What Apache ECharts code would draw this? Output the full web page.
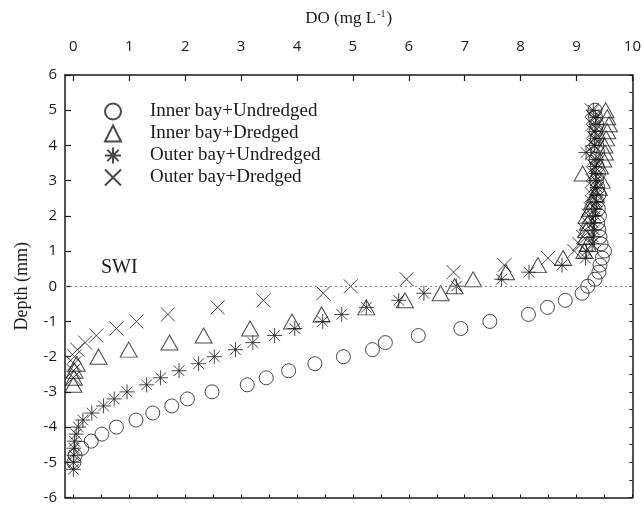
<!DOCTYPE html>
<html>
<head>
<meta charset="utf-8">
<script src="https://cdn.jsdelivr.net/npm/echarts@6/dist/echarts.min.js"></script>
<style>
html,body{margin:0;padding:0;background:#fff;}
#chart{width:644px;height:505px;}
</style>
</head>
<body>
<div id="chart"></div>
<script>
// ---- Data ----
const seriesNames = ['Inner bay+Undredged','Inner bay+Dredged','Outer bay+Undredged','Outer bay+Dredged'];
const xTickValues = [0,1,2,3,4,5,6,7,8,9,10];
const xMinorTicks = [0,0.5,1,1.5,2,2.5,3,3.5,4,4.5,5,5.5,6,6.5,7,7.5,8,8.5,9,9.5,10];

const innerUndredgedDepth = [-5.0,-4.8,-4.6,-4.4,-4.2,-4.0,-3.8,-3.6,-3.4,-3.2,-3.0,-2.8,-2.6,-2.4,-2.2,-2.0,-1.8,-1.6,-1.4,-1.2,-1.0,-0.8,-0.6,-0.4,-0.2,0.0,0.2,0.4,0.6,0.8,1.0,1.2,1.4,1.6,1.8,2.0,2.2,2.4,2.6,2.8,3.0,3.2,3.4,3.6,3.8,4.0,4.2,4.4,4.6,4.8,5.0];
const innerUndredgedDO = [0.01,0.03,0.15,0.32,0.51,0.77,1.12,1.42,1.76,2.04,2.48,3.11,3.45,3.85,4.32,4.83,5.35,5.58,6.17,6.93,7.45,8.14,8.48,8.80,9.10,9.20,9.33,9.40,9.42,9.46,9.50,9.44,9.42,9.40,9.38,9.41,9.39,9.37,9.40,9.38,9.36,9.39,9.37,9.35,9.38,9.36,9.37,9.35,9.36,9.34,9.33];

const innerDredgedDepth = [-2.8,-2.6,-2.4,-2.2,-2.0,-1.8,-1.6,-1.4,-1.2,-1.0,-0.8,-0.6,-0.4,-0.2,0.0,0.2,0.4,0.6,0.8,1.0,1.2,1.4,1.6,1.8,2.0,2.2,2.4,2.6,2.8,3.0,3.2,3.4,3.6,3.8,4.0,4.2,4.4,4.6,4.8,5.0];
const innerDredgedDO = [0.00,0.01,0.02,0.06,0.45,0.99,1.72,2.33,3.16,3.91,4.44,5.24,5.93,6.57,6.82,7.15,7.74,8.31,8.76,9.14,9.20,9.17,9.17,9.20,9.18,9.25,9.28,9.33,9.40,9.45,9.11,9.42,9.48,9.51,9.50,9.53,9.55,9.58,9.55,9.52];

const outerUndredgedDepth = [-5.2,-5.0,-4.8,-4.6,-4.4,-4.2,-4.0,-3.8,-3.6,-3.4,-3.2,-3.0,-2.8,-2.6,-2.4,-2.2,-2.0,-1.8,-1.6,-1.4,-1.2,-1.0,-0.8,-0.6,-0.4,-0.2,0.0,0.2,0.4,0.6,0.8,1.0,1.2,1.4,1.6,1.8,2.0,2.2,2.4,2.6,2.8,3.0,3.2,3.4,3.6,3.8,4.0,4.2,4.4,4.6,4.8,5.0];
const outerUndredgedDO = [0.00,0.00,0.01,0.01,0.02,0.05,0.09,0.17,0.33,0.54,0.73,0.96,1.31,1.56,1.89,2.24,2.52,2.90,3.21,3.60,3.96,4.46,4.80,5.24,5.82,6.27,6.85,7.66,8.15,8.74,9.16,9.18,9.28,9.30,9.32,9.30,9.34,9.33,9.36,9.35,9.37,9.34,9.36,9.33,9.35,9.17,9.32,9.35,9.33,9.35,9.34,9.30];

const outerDredgedDepth = [-2.6,-2.4,-2.2,-2.0,-1.8,-1.6,-1.4,-1.2,-1.0,-0.8,-0.6,-0.4,-0.2,0.0,0.2,0.4,0.6,0.8,1.0,1.2,1.4,1.6,1.8,2.0,2.2,2.4,2.6,2.8,3.0,3.2,3.4,3.6,3.8,4.0,4.2,4.4,4.6,4.8,5.0];
const outerDredgedDO = [0.00,0.00,0.01,0.02,0.07,0.21,0.41,0.77,1.13,1.69,2.58,3.40,4.47,4.96,5.96,6.80,7.71,8.49,8.96,9.05,9.12,9.15,9.20,9.22,9.25,9.27,9.28,9.30,9.28,9.30,9.32,9.30,9.28,9.30,9.32,9.30,9.28,9.30,9.27];

// ---- Chart ----
const pair = (xs, ys) => xs.map((x, i) => [x, ys[i]]);
const SERIF = '"Liberation Serif","DejaVu Serif",serif';
const SANS = '"Open Sans","Noto Sans",sans-serif';
const INK = '#1a1a1a';

const asteriskPath = 'path://M0,-10V10M-10,0H10M-7.07,-7.07L7.07,7.07M-7.07,7.07L7.07,-7.07';
const crossPath = 'path://M0,0L10,10M0,10L10,0';

const markerStyle = {color: 'rgba(255,255,255,0)', borderColor: INK, borderWidth: 1};

const chart = echarts.init(document.getElementById('chart'), null, {renderer: 'canvas'});
chart.setOption({
  animation: false,
  backgroundColor: '#fff',
  grid: {left: 65, right: 11, top: 75, bottom: 4, containLabel: false},
  legend: {
    orient: 'vertical', left: 99, top: 97, itemWidth: 16, itemHeight: 16, itemGap: 3,
    data: seriesNames,
    textStyle: {fontFamily: SERIF, fontSize: 19, color: INK, padding: [0,0,0,24]}
  },
  xAxis: [{
    type: 'value', position: 'top', min: -0.15, max: 10,
    name: '{a|DO (mg L}{s|-1}{a|)}', nameLocation: 'middle', nameGap: 46,
    nameTextStyle: {rich: {
      a: {fontFamily: SERIF, fontSize: 17, color: INK},
      s: {fontFamily: SERIF, fontSize: 10, color: INK, padding: [0,1,10,1]}
    }},
    axisLine: {show: true, onZero: false, lineStyle: {color: INK, width: 1.5}},
    axisTick: {show: true, inside: true, length: 6, customValues: xTickValues, lineStyle: {color: INK, width: 1.2}},
    axisLabel: {customValues: xTickValues, fontFamily: SANS, fontSize: 15, color: INK, margin: 21},
    splitLine: {show: false}
  }, {
    type: 'value', position: 'bottom', min: -0.15, max: 10,
    axisLine: {show: true, onZero: false, lineStyle: {color: INK, width: 1.5}},
    axisTick: {show: true, inside: true, length: 3, customValues: xMinorTicks, lineStyle: {color: INK}},
    axisLabel: {show: false},
    splitLine: {show: false}
  }],
  yAxis: [{
    type: 'value', position: 'left', min: -6, max: 6, interval: 1,
    name: 'Depth (mm)', nameLocation: 'middle', nameGap: 34,
    nameTextStyle: {fontFamily: SERIF, fontSize: 18, color: INK},
    axisLine: {show: true, onZero: false, lineStyle: {color: INK, width: 1.5}},
    axisTick: {show: true, inside: true, length: 6, lineStyle: {color: INK, width: 1.2}},
    axisLabel: {fontFamily: SANS, fontSize: 15, color: INK, margin: 8},
    splitLine: {show: false}
  }, {
    type: 'value', position: 'right', min: -6, max: 6, interval: 0.5,
    axisLine: {show: true, onZero: false, lineStyle: {color: INK, width: 1.5}},
    axisTick: {show: true, inside: true, length: 3, lineStyle: {color: INK}},
    axisLabel: {show: false},
    splitLine: {show: false}
  }],
  graphic: [{
    type: 'text', left: 101, top: 258, silent: true,
    style: {text: 'SWI', font: '20px "Liberation Serif", serif', fill: INK}
  }],
  series: [{
    name: seriesNames[0], type: 'scatter', symbol: 'circle', symbolSize: 14,
    data: pair(innerUndredgedDO, innerUndredgedDepth), itemStyle: markerStyle,
    markLine: {
      silent: true, symbol: 'none', label: {show: false},
      lineStyle: {type: [2, 3], color: '#888', width: 1},
      data: [{yAxis: 0}]
    }
  }, {
    name: seriesNames[1], type: 'scatter', symbol: 'triangle', symbolSize: [17, 15],
    data: pair(innerDredgedDO, innerDredgedDepth), itemStyle: markerStyle
  }, {
    name: seriesNames[2], type: 'scatter', symbol: asteriskPath, symbolSize: 15,
    data: pair(outerUndredgedDO, outerUndredgedDepth), itemStyle: markerStyle
  }, {
    name: seriesNames[3], type: 'scatter', symbol: crossPath, symbolSize: 14,
    data: pair(outerDredgedDO, outerDredgedDepth), itemStyle: markerStyle
  }]
});
</script>
</body>
</html>
